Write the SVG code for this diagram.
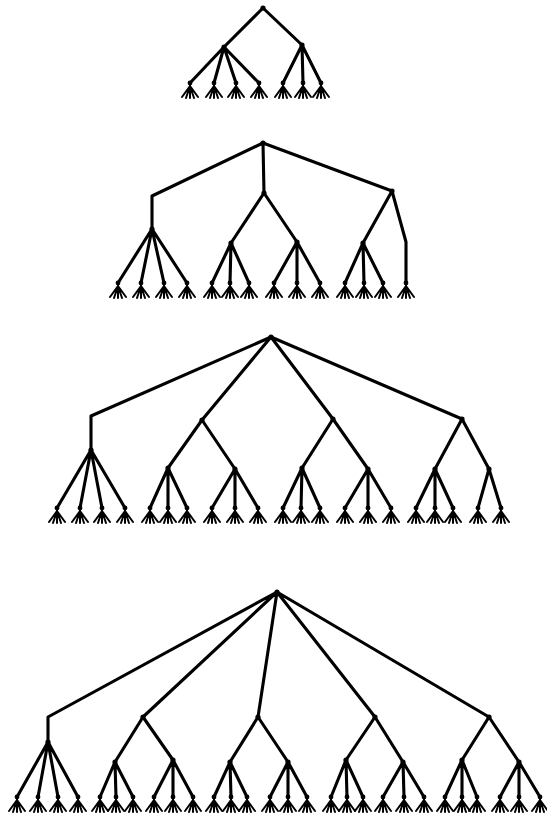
<svg xmlns="http://www.w3.org/2000/svg" xmlns:xlink="http://www.w3.org/1999/xlink" width="547" height="814" viewBox="0 0 547 814">
<style>
.e{fill:none;stroke:#000;stroke-width:3.1;stroke-linecap:round;stroke-linejoin:round}
.f{fill:none;stroke:#000;stroke-width:2;stroke-linecap:round}
.n{fill:#000}
</style>
<defs>
<g id="fan"><path class="f" d="M0,0 L0,5 M0,3 L-8,14 M0,3 L-4,15 M0,3 L0,15 M0,3 L4,15 M0,3 L8,14"/><circle class="n" r="2.4"/></g>
<circle id="dot" class="n" r="2.6"/>
</defs>
<rect width="547" height="814" fill="#fff"/>
<g id="connectors">
<path class="e" d="M263,8 L224,47 M263,8 L302,45 M224,47 L190,83 M224,47 L214,83 M224,47 L236,83 M224,47 L259,83 M302,45 L283,83 M302,45 L303,83 M302,45 L321,83"/>
<path class="e" d="M263,143 L152,196 L152,229 M263,143 L264,193 M263,143 L392,191 M152,229 L118,283 M152,229 L141,283 M152,229 L164,283 M152,229 L187,283 M264,193 L231,243 M264,193 L297,242 M231,243 L212,283 M231,243 L230,283 M231,243 L249,283 M297,242 L274,283 M297,242 L297,283 M297,242 L320,283 M392,191 L363,243 M392,191 L406,242 L406,283 M363,243 L345,283 M363,243 L364,283 M363,243 L383,283"/>
<path class="e" d="M271,337 L91,416 L91,450 M271,337 L202,420 M271,337 L333,419 M271,337 L462,419 M91,450 L57,508 M91,450 L80,508 M91,450 L102,508 M91,450 L125,508 M202,420 L168,468 M202,420 L235,469 M168,468 L150,508 M168,468 L168,508 M168,468 L187,508 M235,469 L212,508 M235,469 L235,508 M235,469 L258,508 M333,419 L302,468 M333,419 L368,469 M302,468 L283,508 M302,468 L301,508 M302,468 L320,508 M368,469 L345,508 M368,469 L368,508 M368,469 L391,508 M462,419 L435,469 M462,419 L489,469 M435,469 L416,508 M435,469 L435,508 M435,469 L453,508 M489,469 L478,508 M489,469 L501,508"/>
<path class="e" d="M277,592 L48,717 L48,742 M277,592 L143,717 M277,592 L258,717 M277,592 L375,717 M277,592 L489,717 M48,742 L17,797 M48,742 L38,797 M48,742 L58,797 M48,742 L78,797 M143,717 L115,762 M143,717 L173,760 M115,762 L100,797 M115,762 L116,797 M115,762 L133,797 M173,760 L154,797 M173,760 L173,797 M173,760 L193,797 M258,717 L230,762 M258,717 L288,762 M230,762 L214,797 M230,762 L231,797 M230,762 L247,797 M288,762 L270,797 M288,762 L288,797 M288,762 L307,797 M375,717 L346,760 M375,717 L403,762 M346,760 L331,797 M346,760 L347,797 M346,760 L363,797 M403,762 L383,797 M403,762 L404,797 M403,762 L424,797 M489,717 L462,760 M489,717 L519,762 M462,760 L445,797 M462,760 L462,797 M462,760 L477,797 M519,762 L500,797 M519,762 L519,797 M519,762 L540,797"/>
</g>
<g id="tree1">
<g id="t1-root"><use xlink:href="#dot" x="263" y="8"/></g>
<g id="t1-a"><use xlink:href="#dot" x="224" y="47"/></g>
<g id="t1-b"><use xlink:href="#dot" x="302" y="45"/></g>
<g id="t1-leaves"><use xlink:href="#fan" x="190" y="83"/><use xlink:href="#fan" x="214" y="83"/><use xlink:href="#fan" x="236" y="83"/><use xlink:href="#fan" x="259" y="83"/><use xlink:href="#fan" x="283" y="83"/><use xlink:href="#fan" x="303" y="83"/><use xlink:href="#fan" x="321" y="83"/></g>
</g>
<g id="tree2">
<g id="t2-root"><use xlink:href="#dot" x="263" y="143"/></g>
<g id="t2-c1"><use xlink:href="#dot" x="152" y="229"/></g>
<g id="t2-c2"><use xlink:href="#dot" x="264" y="193"/></g>
<g id="t2-c3"><use xlink:href="#dot" x="392" y="191"/></g>
<g id="t2-d1"><use xlink:href="#dot" x="231" y="243"/></g>
<g id="t2-d2"><use xlink:href="#dot" x="297" y="242"/></g>
<g id="t2-d3"><use xlink:href="#dot" x="363" y="243"/></g>
<g id="t2-leaves"><use xlink:href="#fan" x="118" y="283"/><use xlink:href="#fan" x="141" y="283"/><use xlink:href="#fan" x="164" y="283"/><use xlink:href="#fan" x="187" y="283"/><use xlink:href="#fan" x="212" y="283"/><use xlink:href="#fan" x="230" y="283"/><use xlink:href="#fan" x="249" y="283"/><use xlink:href="#fan" x="274" y="283"/><use xlink:href="#fan" x="297" y="283"/><use xlink:href="#fan" x="320" y="283"/><use xlink:href="#fan" x="345" y="283"/><use xlink:href="#fan" x="364" y="283"/><use xlink:href="#fan" x="383" y="283"/><use xlink:href="#fan" x="406" y="283"/></g>
</g>
<g id="tree3">
<g id="t3-root"><use xlink:href="#dot" x="271" y="337"/></g>
<g id="t3-e1"><use xlink:href="#dot" x="91" y="450"/></g>
<g id="t3-e2"><use xlink:href="#dot" x="202" y="420"/></g>
<g id="t3-e3"><use xlink:href="#dot" x="333" y="419"/></g>
<g id="t3-e4"><use xlink:href="#dot" x="462" y="419"/></g>
<g id="t3-f"><use xlink:href="#dot" x="168" y="468"/><use xlink:href="#dot" x="235" y="469"/><use xlink:href="#dot" x="302" y="468"/><use xlink:href="#dot" x="368" y="469"/><use xlink:href="#dot" x="435" y="469"/><use xlink:href="#dot" x="489" y="469"/></g>
<g id="t3-leaves"><use xlink:href="#fan" x="57" y="508"/><use xlink:href="#fan" x="80" y="508"/><use xlink:href="#fan" x="102" y="508"/><use xlink:href="#fan" x="125" y="508"/><use xlink:href="#fan" x="150" y="508"/><use xlink:href="#fan" x="168" y="508"/><use xlink:href="#fan" x="187" y="508"/><use xlink:href="#fan" x="212" y="508"/><use xlink:href="#fan" x="235" y="508"/><use xlink:href="#fan" x="258" y="508"/><use xlink:href="#fan" x="283" y="508"/><use xlink:href="#fan" x="301" y="508"/><use xlink:href="#fan" x="320" y="508"/><use xlink:href="#fan" x="345" y="508"/><use xlink:href="#fan" x="368" y="508"/><use xlink:href="#fan" x="391" y="508"/><use xlink:href="#fan" x="416" y="508"/><use xlink:href="#fan" x="435" y="508"/><use xlink:href="#fan" x="453" y="508"/><use xlink:href="#fan" x="478" y="508"/><use xlink:href="#fan" x="501" y="508"/></g>
</g>
<g id="tree4">
<g id="t4-root"><use xlink:href="#dot" x="277" y="592"/></g>
<g id="t4-g1"><use xlink:href="#dot" x="48" y="742"/></g>
<g id="t4-g2"><use xlink:href="#dot" x="143" y="717"/></g>
<g id="t4-g3"><use xlink:href="#dot" x="258" y="717"/></g>
<g id="t4-g4"><use xlink:href="#dot" x="375" y="717"/></g>
<g id="t4-g5"><use xlink:href="#dot" x="489" y="717"/></g>
<g id="t4-h"><use xlink:href="#dot" x="115" y="762"/><use xlink:href="#dot" x="173" y="760"/><use xlink:href="#dot" x="230" y="762"/><use xlink:href="#dot" x="288" y="762"/><use xlink:href="#dot" x="346" y="760"/><use xlink:href="#dot" x="403" y="762"/><use xlink:href="#dot" x="462" y="760"/><use xlink:href="#dot" x="519" y="762"/></g>
<g id="t4-leaves"><use xlink:href="#fan" x="17" y="797"/><use xlink:href="#fan" x="38" y="797"/><use xlink:href="#fan" x="58" y="797"/><use xlink:href="#fan" x="78" y="797"/><use xlink:href="#fan" x="100" y="797"/><use xlink:href="#fan" x="116" y="797"/><use xlink:href="#fan" x="133" y="797"/><use xlink:href="#fan" x="154" y="797"/><use xlink:href="#fan" x="173" y="797"/><use xlink:href="#fan" x="193" y="797"/><use xlink:href="#fan" x="214" y="797"/><use xlink:href="#fan" x="231" y="797"/><use xlink:href="#fan" x="247" y="797"/><use xlink:href="#fan" x="270" y="797"/><use xlink:href="#fan" x="288" y="797"/><use xlink:href="#fan" x="307" y="797"/><use xlink:href="#fan" x="331" y="797"/><use xlink:href="#fan" x="347" y="797"/><use xlink:href="#fan" x="363" y="797"/><use xlink:href="#fan" x="383" y="797"/><use xlink:href="#fan" x="404" y="797"/><use xlink:href="#fan" x="424" y="797"/><use xlink:href="#fan" x="445" y="797"/><use xlink:href="#fan" x="462" y="797"/><use xlink:href="#fan" x="477" y="797"/><use xlink:href="#fan" x="500" y="797"/><use xlink:href="#fan" x="519" y="797"/><use xlink:href="#fan" x="540" y="797"/></g>
</g>
</svg>
